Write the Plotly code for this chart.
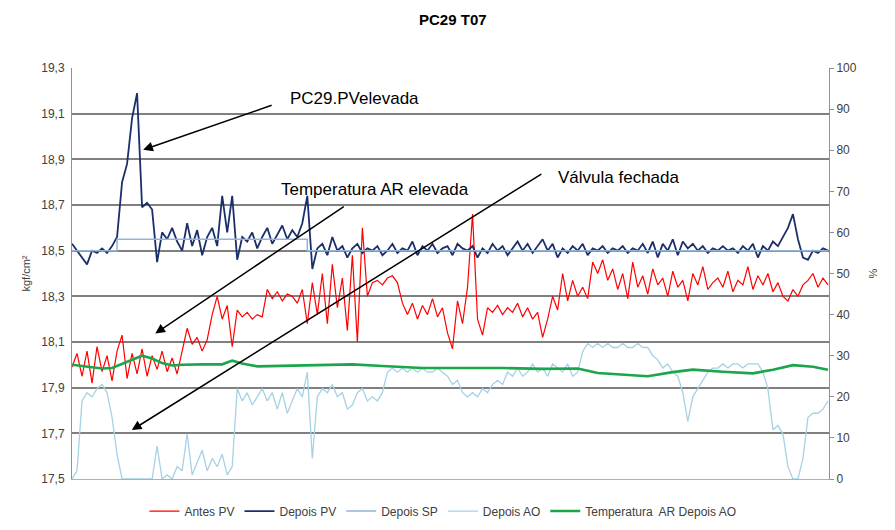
import plotly.graph_objects as go

# sample index (one reading per step along the time axis)
samples = list(range(152))

antes_pv = [
    17.99, 18.05, 17.95, 18.06, 17.92, 18.08, 17.97, 18.04, 17.93, 18.06,
    18.13, 17.94, 18.05, 17.96, 18.07, 17.95, 18.04, 17.98, 18.06, 17.97,
    18.03, 17.96, 18.06, 18.16, 18.09, 18.12, 18.06, 18.11, 18.22, 18.30,
    18.20, 18.26, 18.08, 18.24, 18.21, 18.23, 18.20, 18.22, 18.21, 18.33,
    18.29, 18.32, 18.28, 18.31, 18.30, 18.27, 18.33, 18.18, 18.36, 18.22,
    18.40, 18.18, 18.44, 18.25, 18.38, 18.15, 18.48, 18.10, 18.60, 18.30,
    18.36, 18.37, 18.35, 18.38, 18.39, 18.36, 18.27, 18.22, 18.27, 18.20,
    18.26, 18.22, 18.29, 18.21, 18.25, 18.14, 18.07, 18.28, 18.18, 18.34,
    18.66, 18.20, 18.13, 18.25, 18.23, 18.26, 18.22, 18.25, 18.23, 18.27,
    18.21, 18.25, 18.20, 18.23, 18.12, 18.20, 18.30, 18.24, 18.40, 18.28,
    18.37, 18.30, 18.34, 18.29, 18.45, 18.40, 18.46, 18.37, 18.42, 18.33,
    18.40, 18.29, 18.45, 18.34, 18.39, 18.31, 18.42, 18.35, 18.38, 18.30,
    18.41, 18.34, 18.37, 18.28, 18.40, 18.35, 18.43, 18.33, 18.36, 18.38,
    18.34, 18.41, 18.32, 18.37, 18.35, 18.43, 18.33, 18.39, 18.35, 18.40,
    18.32, 18.36, 18.30, 18.28, 18.33, 18.30, 18.35, 18.37, 18.40, 18.34,
    18.38, 18.35,
]

depois_pv = [
    18.53, 18.50, 18.47, 18.44, 18.50, 18.49, 18.51, 18.49, 18.52, 18.56,
    18.80, 18.88, 19.08, 19.19, 18.69, 18.71, 18.68, 18.45, 18.58, 18.55,
    18.60, 18.54, 18.50, 18.62, 18.52, 18.59, 18.48, 18.56, 18.60, 18.52,
    18.74, 18.58, 18.74, 18.46, 18.56, 18.54, 18.58, 18.51, 18.56, 18.60,
    18.53, 18.57, 18.61, 18.55, 18.59, 18.56, 18.62, 18.74, 18.42, 18.51,
    18.53, 18.48, 18.56, 18.50, 18.52, 18.47, 18.51, 18.53, 18.49, 18.51,
    18.50, 18.52, 18.48, 18.50, 18.53, 18.49, 18.51, 18.50, 18.54, 18.48,
    18.52, 18.50, 18.53, 18.49, 18.51, 18.52, 18.48, 18.53, 18.51, 18.50,
    18.52, 18.47, 18.51, 18.49, 18.53, 18.50, 18.52, 18.48, 18.51, 18.54,
    18.50, 18.53, 18.49, 18.52, 18.55, 18.50, 18.53, 18.47, 18.51, 18.49,
    18.52, 18.50, 18.53, 18.48, 18.51, 18.50, 18.52, 18.49, 18.51, 18.50,
    18.52, 18.49, 18.51, 18.50, 18.53, 18.49, 18.54, 18.47, 18.53, 18.50,
    18.55, 18.48, 18.54, 18.51, 18.53, 18.50, 18.52, 18.49, 18.51, 18.50,
    18.52, 18.50, 18.51, 18.49, 18.52, 18.50, 18.53, 18.47, 18.52, 18.50,
    18.54, 18.52, 18.56, 18.60, 18.66, 18.55, 18.47, 18.46, 18.50, 18.49,
    18.51, 18.50,
]

# set point only changes twice, so it is kept as a short step series
sp_samples = [0, 9, 9, 47, 47, 151]
depois_sp = [18.50, 18.50, 18.55, 18.55, 18.50, 18.50]

depois_ao = [
    0, 2, 19, 21, 20, 22, 23, 21, 15, 6,
    0, 0, 0, 0, 0, 0, 0, 8, 0, 1,
    0, 3, 2, 11, 1, 4, 7, 2, 5, 3,
    6, 1, 3, 22, 19, 21, 18, 20, 22, 19,
    21, 17, 21, 16, 19, 22, 20, 26, 5, 20,
    22, 21, 23, 20, 21, 17, 18, 21, 22, 19,
    20, 19, 21, 26, 27, 26, 27, 26, 27, 26,
    27, 26, 26, 27, 26, 25, 23, 24, 21, 20,
    21, 20, 22, 21, 23, 24, 23, 26, 25, 27,
    25, 26, 28, 26, 27, 25, 28, 27, 26, 28,
    25, 26, 31, 33, 32, 33, 32, 33, 32, 32,
    33, 32, 32, 33, 32, 32, 30, 29, 27, 28,
    26, 25, 21, 14, 20, 22, 24, 26, 27, 27,
    28, 27, 28, 28, 27, 28, 28, 28, 26, 22,
    12, 13, 11, 3, 0, 0, 5, 15, 16, 16,
    17, 19,
]

temp_samples = [
    0, 3, 6, 8, 11, 14, 16, 18, 20, 22, 26, 30, 32, 34, 37, 42, 48, 56,
    62, 70, 78, 86, 94, 101, 105, 110, 115, 120, 124, 130, 136, 140, 144,
    148, 151,
]
temperatura_ar = [
    27.8, 27.3, 26.9, 27.0, 28.5, 30.0, 29.3, 28.2, 27.6, 27.8, 27.9, 27.9,
    28.8, 28.1, 27.4, 27.5, 27.7, 27.9, 27.5, 27.0, 27.0, 27.0, 26.8, 26.9,
    25.8, 25.4, 25.0, 26.0, 26.6, 26.1, 25.7, 26.6, 27.7, 27.3, 26.6,
]

fig = go.Figure()
fig.add_trace(go.Scatter(x=samples, y=antes_pv, name="Antes PV", mode="lines",
                         line=dict(color="#ff0000", width=1.2)))
fig.add_trace(go.Scatter(x=samples, y=depois_pv, name="Depois PV", mode="lines",
                         line=dict(color="#1b2f6b", width=1.8)))
fig.add_trace(go.Scatter(x=sp_samples, y=depois_sp, name="Depois SP", mode="lines",
                         line=dict(color="#95b3d7", width=1.5)))
fig.add_trace(go.Scatter(x=samples, y=depois_ao, name="Depois AO", mode="lines",
                         line=dict(color="#a5d2e4", width=1.3), yaxis="y2"))
fig.add_trace(go.Scatter(x=temp_samples, y=temperatura_ar, name="Temperatura  AR Depois AO",
                         mode="lines", line=dict(color="#1aa64a", width=2.6), yaxis="y2"))

font_main = "Liberation Sans, Arial, sans-serif"

# arrows: head position in paper coords, tail offset in pixels
arrows = [
    (0.094, 0.801, 130, -45),
    (0.110, 0.354, 190, -128),
    (0.079, 0.119, 411, -257),
]
annotations = []
for hx, hy, ax, ay in arrows:
    annotations.append(dict(
        x=hx, y=hy, xref="paper", yref="paper", text="", showarrow=True,
        ax=ax, ay=ay, axref="pixel", ayref="pixel",
        arrowhead=2, arrowsize=1.3, arrowwidth=1.5, arrowcolor="black",
    ))

labels = [
    ("PC29.PVelevada", 0.285, 0.925),
    ("Temperatura AR elevada", 0.273, 0.705),
    ("Válvula fechada", 0.639, 0.734),
]
for txt, lx, ly in labels:
    annotations.append(dict(
        x=lx, y=ly, xref="paper", yref="paper", text=txt, showarrow=False,
        xanchor="left", yanchor="middle",
        font=dict(family=font_main, size=17, color="black"),
    ))

# the page body adds an 8px offset, so margins are set 8px smaller on left/top
fig.update_layout(
    width=895, height=530,
    margin=dict(l=64, r=74, t=60, b=53),
    paper_bgcolor="white", plot_bgcolor="white",
    separators=",.",
    title=dict(text="<b>PC29 T07</b>", x=0.497, xanchor="center",
               y=0.977, yanchor="middle",
               font=dict(family=font_main, size=15, color="black")),
    font=dict(family=font_main, size=12, color="#404040"),
    showlegend=True,
    legend=dict(orientation="h", x=0.49, xanchor="center", y=-0.078, yanchor="middle",
                font=dict(family=font_main, size=12, color="#404040"),
                itemwidth=30, tracegroupgap=0),
    xaxis=dict(range=[0, 151.2], showticklabels=False, ticks="", showgrid=False,
               zeroline=False, showline=True, linecolor="#b0b0b0", linewidth=1),
    yaxis=dict(range=[17.5, 19.3], tick0=17.5, dtick=0.2, tickformat=".1f",
               showgrid=True, gridcolor="#808080", gridwidth=1.8, zeroline=False,
               showline=True, linecolor="#909090", linewidth=1, automargin=False,
               ticks="", ticklabelstandoff=4, tickfont=dict(size=12, color="#404040"),
               title=dict(text="kgf/cm²", standoff=8,
                          font=dict(size=11, color="#404040"))),
    yaxis2=dict(range=[0, 100], dtick=10, overlaying="y", side="right",
                showgrid=False, zeroline=False, showline=True, automargin=False,
                linecolor="#909090", linewidth=1, ticks="outside", ticklen=4,
                tickcolor="#909090", tickfont=dict(size=12, color="#404040"),
                title=dict(text="%", standoff=13,
                           font=dict(size=11, color="#404040"))),
    annotations=annotations,
)

fig.write_html("out.html")
